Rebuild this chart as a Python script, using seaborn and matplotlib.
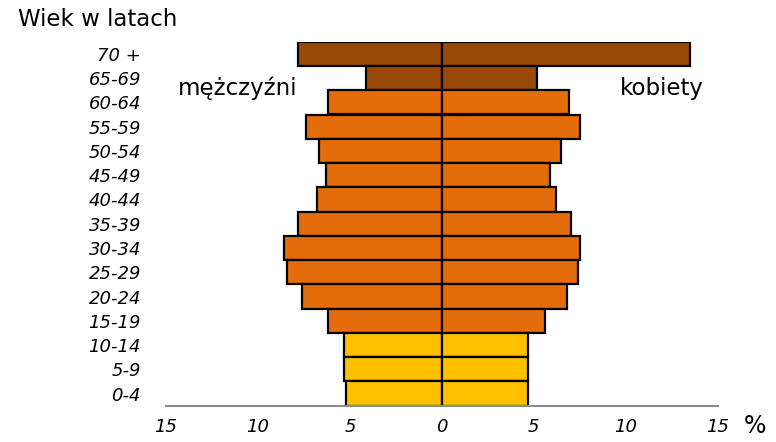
import numpy as np
import pandas as pd
import matplotlib
matplotlib.use("Agg")
import matplotlib.pyplot as plt
import seaborn as sns

# --------------------------
# Data
# --------------------------

ages = ["70 +", "65-69", "60-64", "55-59", "50-54", "45-49", "40-44",
        "35-39", "30-34", "25-29", "20-24", "15-19", "10-14", "5-9", "0-4"]

men = [7.8, 4.1, 6.2, 7.4, 6.7, 6.3, 6.8, 7.8, 8.6, 8.4, 7.6, 6.2, 5.3, 5.3, 5.2]
women = [13.5, 5.2, 6.9, 7.5, 6.5, 5.9, 6.2, 7.0, 7.5, 7.4, 6.8, 5.6, 4.7, 4.7, 4.7]

groups = ["old"] * 2 + ["mid"] * 10 + ["young"] * 3
colors = {"old": "#984807", "mid": "#E46C0A", "young": "#FFC000"}

x_ticks = [-15, -10, -5, 0, 5, 10, 15]
x_labels = ["15", "10", "5", "0", "5", "10", "15"]

men_df = pd.DataFrame({"wiek": ages, "procent": [-m for m in men], "grupa": groups})
women_df = pd.DataFrame({"wiek": ages, "procent": women, "grupa": groups})

# --------------------------
# Plot
# --------------------------

sns.set_style("white")
plt.rcParams["font.family"] = ["DejaVu Sans"]
plt.rcParams["text.color"] = "black"
plt.rcParams["xtick.color"] = "black"
plt.rcParams["ytick.color"] = "black"

W, H = 776, 442
fig = plt.figure(figsize=(W / 100, H / 100), dpi=100)
ax = fig.add_axes([166 / W, 1 - 405.7 / H, (717.7 - 166) / W, (405.7 - 41.7) / H])

for part in [men_df, women_df]:
    sns.barplot(
        data=part, x="procent", y="wiek", hue="grupa", order=ages,
        palette=colors, saturation=1, orient="h", width=1, dodge=False,
        edgecolor="black", linewidth=1.6, legend=False, ax=ax
    )

ax.set_xlim(-15, 15)
ax.set_ylim(14.5, -0.5)
ax.set_xticks(x_ticks)
ax.set_xticklabels(x_labels, fontstyle="italic", fontsize=13)
ax.set_yticks(range(len(ages)))
ax.set_yticklabels(ages, fontstyle="italic", fontsize=13)
ax.tick_params(axis="y", length=0, pad=18)
ax.tick_params(axis="x", length=5, width=1.5, color="#8c8c8c", pad=4,
               labelcolor="black", direction="out")
ax.set_xlabel("")
ax.set_ylabel("")

for side in ["top", "right", "left"]:
    ax.spines[side].set_visible(False)
ax.spines["bottom"].set_color("#8c8c8c")
ax.spines["bottom"].set_linewidth(1.5)

fig.text(18 / W, 1 - 19 / H, "Wiek w latach", fontsize=16.5, va="center", ha="left")
fig.text(178 / W, 1 - 88 / H, "mężczyźni", fontsize=16.5, va="center", ha="left")
fig.text(620 / W, 1 - 88 / H, "kobiety", fontsize=16.5, va="center", ha="left")
fig.text(755 / W, 1 - 426 / H, "%", fontsize=17, va="center", ha="center")

fig.savefig("out.png", dpi=100)
